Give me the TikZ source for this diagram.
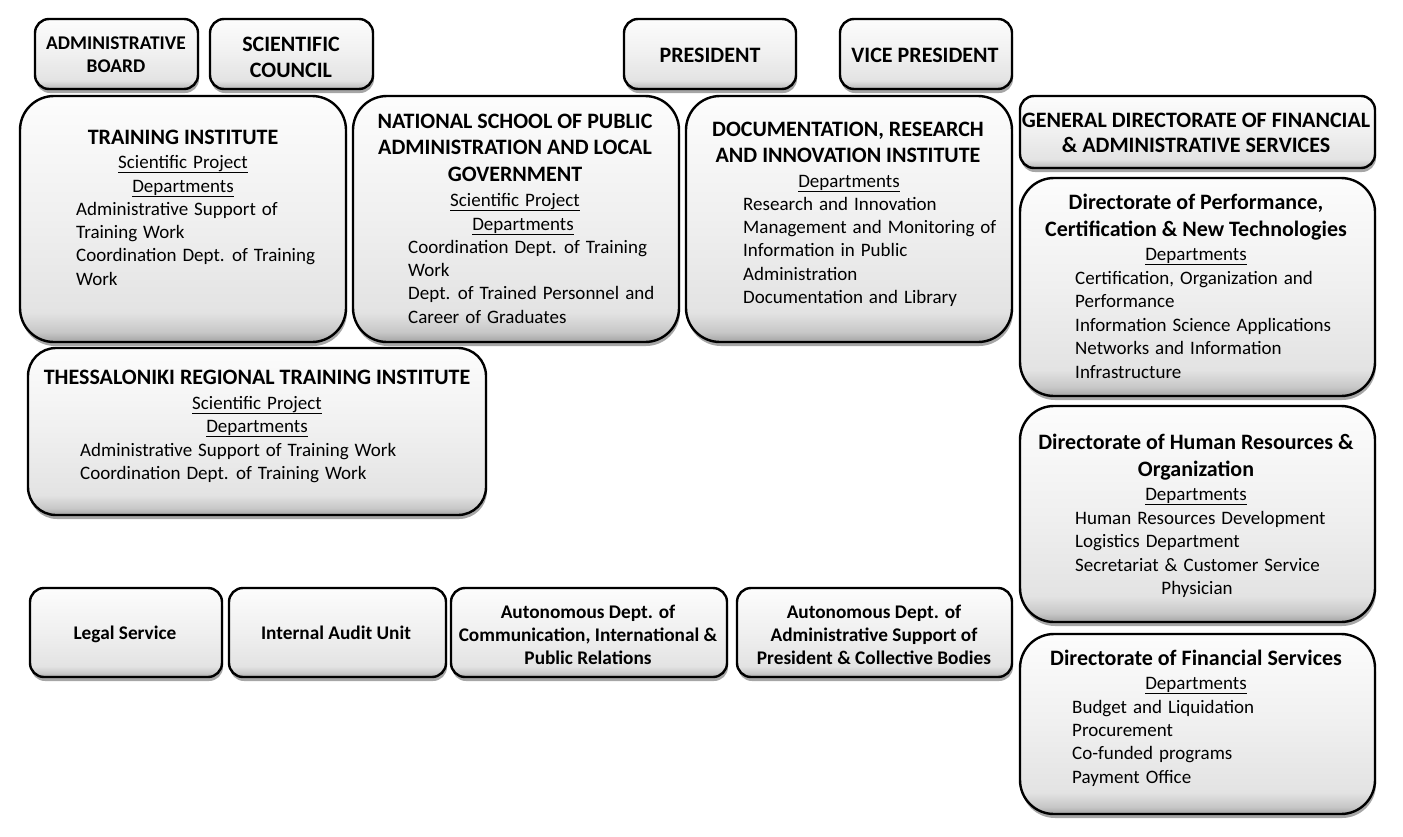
\documentclass[tikz,border=0pt]{standalone}
\usepackage{fontspec}
\setmainfont{Carlito}
\newfontfamily\bodyfont[WordSpace=1.4]{Carlito}
\usetikzlibrary{shadows}
\pgfdeclareverticalshading{boxshade}{100bp}{color(0bp)=(black!36); color(25bp)=(black!36); color(27bp)=(black!22); color(31bp)=(black!11); color(50bp)=(black!6); color(75bp)=(black!1); color(100bp)=(black!1)}
\begin{document}
\begin{tikzpicture}[x=1pt,y=-1pt,
  box/.style={draw=black, line width=2.4pt, shading=boxshade,
    drop shadow={shadow xshift=1pt, shadow yshift=-4pt, opacity=0.35, fill=black}, inner sep=0pt},
  big/.style={box, rounded corners=34pt},
  small/.style={box, rounded corners=14pt},
  ttl/.style={font=\bfseries\fontsize{22}{26}\selectfont, anchor=base, inner sep=0pt},
  stl/.style={font=\bfseries\fontsize{19.4}{23}\selectfont, anchor=base, inner sep=0pt},
  btl/.style={font=\bfseries\fontsize{19.3}{23}\selectfont, anchor=base, inner sep=0pt},
  ctr/.style={font=\bodyfont\fontsize{19}{23}\selectfont, anchor=base, inner sep=0pt},
  itm/.style={font=\bodyfont\fontsize{19}{23}\selectfont, anchor=base west, inner sep=0pt}]
\useasboundingbox (0,0) rectangle (1403,836);
\fill[white] (0,0) rectangle (1403,836);

% boxes
\node[small, minimum width=163pt, minimum height=70pt] (ab) at (116.5,54) {};
\node[small, minimum width=163pt, minimum height=70pt] (sc) at (291.5,54) {};
\node[small, minimum width=172pt, minimum height=70pt] (pr) at (710,54) {};
\node[small, minimum width=172pt, minimum height=70pt] (vp) at (926,54) {};
\node[big, minimum width=326pt, minimum height=246pt] (ti) at (183,219) {};
\node[big, minimum width=326pt, minimum height=246pt] (ns) at (516,219) {};
\node[big, minimum width=326pt, minimum height=246pt] (dr) at (849,219) {};
\node[small, minimum width=355pt, minimum height=72pt] (gd) at (1197.5,132) {};
\node[big, minimum width=355pt, minimum height=218pt] (dp) at (1197.5,287) {};
\node[big, minimum width=355pt, minimum height=216pt] (dh) at (1197.5,514) {};
\node[big, minimum width=355pt, minimum height=180pt] (df) at (1197.5,724) {};
\node[big, rounded corners=28pt, minimum width=458pt, minimum height=167pt] (th) at (257,431.5) {};
\node[small, minimum width=192pt, minimum height=89pt] (ls) at (126,632.5) {};
\node[small, minimum width=217pt, minimum height=89pt] (ia) at (337.5,632.5) {};
\node[small, minimum width=276pt, minimum height=89pt] (ac) at (589,632.5) {};
\node[small, minimum width=275pt, minimum height=89pt] (aa) at (874.5,632.5) {};

% top small boxes
\node[stl] (ab1) at (116,49) {ADMINISTRATIVE};
\node[stl] (ab2) at (116,72) {BOARD};
\node[ttl] (sc1) at (291,51) {SCIENTIFIC};
\node[ttl] (sc2) at (291,77) {COUNCIL};
\node[ttl] (pr1) at (710,62) {PRESIDENT};
\node[ttl] (vp1) at (925,62) {VICE PRESIDENT};

% training institute
\node[ttl] (ti1) at (183,144) {TRAINING INSTITUTE};
\node[ctr] (ti2) at (183,168) {\underline{Scientific Project}};
\node[ctr] (ti3) at (183,192) {\underline{Departments}};
\foreach \t [count=\i from 0] in {Administrative Support of, Training Work, Coordination Dept. of Training, Work}
  \node[itm] (ti-\i) at (76,215+23.4*\i) {\t};

% national school
\node[ttl] (ns1) at (515,128) {NATIONAL SCHOOL OF PUBLIC};
\node[ttl] (ns2) at (515,154) {ADMINISTRATION AND LOCAL};
\node[ttl] (ns3) at (515,181) {GOVERNMENT};
\node[ctr] (ns4) at (515,206) {\underline{Scientific Project}};
\node[ctr] (ns5) at (523,230) {\underline{Departments}};
\foreach \t [count=\i from 0] in {Coordination Dept. of Training, Work, Dept. of Trained Personnel and, Career of Graduates}
  \node[itm] (ns-\i) at (408,253+23.4*\i) {\t};

% documentation
\node[ttl] (dr1) at (848,136) {DOCUMENTATION, RESEARCH};
\node[ttl] (dr2) at (848,162) {AND INNOVATION INSTITUTE};
\node[ctr] (dr3) at (849,187) {\underline{Departments}};
\foreach \t [count=\i from 0] in {Research and Innovation, Management and Monitoring of, Information in Public, Administration, Documentation and Library}
  \node[itm] (dr-\i) at (743,210+23.4*\i) {\t};

% general directorate
\node[ttl] (gd1) at (1196,127) {GENERAL DIRECTORATE OF FINANCIAL};
\node[ttl] (gd2) at (1196,152) {\& ADMINISTRATIVE SERVICES};

% directorate performance
\node[ttl] (dp1) at (1196,209) {Directorate of Performance,};
\node[ttl] (dp2) at (1196,236) {Certification \& New Technologies};
\node[ctr] (dp3) at (1196,260) {\underline{Departments}};
\foreach \t [count=\i from 0] in {{Certification, Organization and}, Performance, Information Science Applications, Networks and Information, Infrastructure}
  \node[itm] (dp-\i) at (1075,284+23.5*\i) {\t};

% directorate HR
\node[ttl] (dh1) at (1196,449) {Directorate of Human Resources \&};
\node[ttl] (dh2) at (1196,476) {Organization};
\node[ctr] (dh3) at (1196,500) {\underline{Departments}};
\foreach \t [count=\i from 0] in {Human Resources Development, Logistics Department, Secretariat \& Customer Service}
  \node[itm] (dh-\i) at (1075,524+23.5*\i) {\t};
\node[ctr] (dh4) at (1197,594) {Physician};

% directorate financial
\node[ttl] (df1) at (1196,665) {Directorate of Financial Services};
\node[ctr] (df2) at (1196,689) {\underline{Departments}};
\foreach \t [count=\i from 0] in {Budget and Liquidation, Procurement, Co-funded programs, Payment Office}
  \node[itm] (df-\i) at (1072,713+23.4*\i) {\t};

% thessaloniki
\node[ttl] (th1) at (257,384) {THESSALONIKI REGIONAL TRAINING INSTITUTE};
\node[ctr] (th2) at (257,409) {\underline{Scientific Project}};
\node[ctr] (th3) at (257,432) {\underline{Departments}};
\foreach \t [count=\i from 0] in {Administrative Support of Training Work, Coordination Dept. of Training Work}
  \node[itm] (th-\i) at (80,456+23.4*\i) {\t};

% bottom row
\node[btl] (ls1) at (125,639) {Legal Service};
\node[btl] (ia1) at (336,639) {Internal Audit Unit};
\node[btl] (ac1) at (588,618) {Autonomous Dept. of};
\node[btl] (ac2) at (588,641) {Communication, International \&};
\node[btl] (ac3) at (588,664) {Public Relations};
\node[btl] (aa1) at (874,618) {Autonomous Dept. of};
\node[btl] (aa2) at (874,641) {Administrative Support of};
\node[btl] (aa3) at (874,664) {President \& Collective Bodies};
\end{tikzpicture}
\end{document}
